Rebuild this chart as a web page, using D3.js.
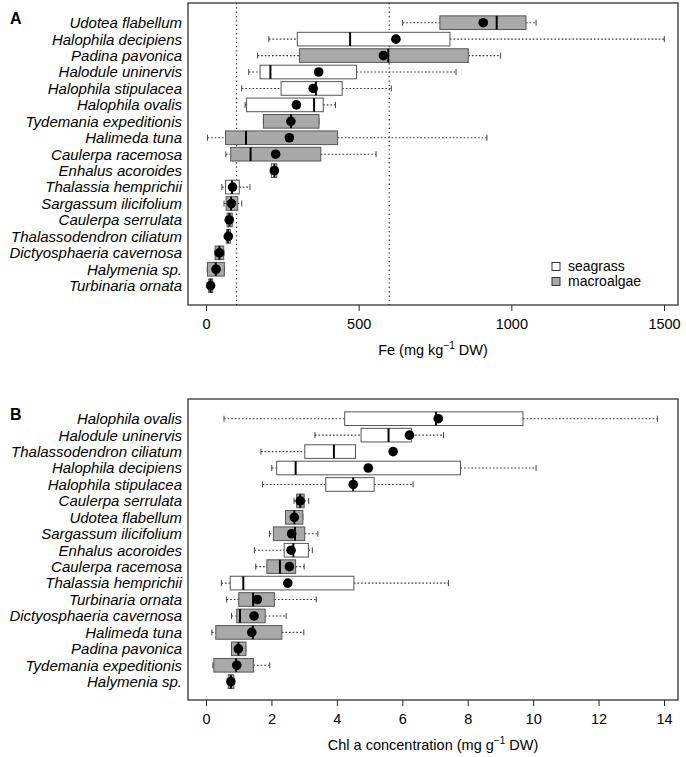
<!DOCTYPE html>
<html><head><meta charset="utf-8">
<script src="https://cdn.jsdelivr.net/npm/d3@7/dist/d3.min.js"></script>
<style>body{margin:0;background:#fff}svg{display:block}text{font-family:"Liberation Sans",Arial,sans-serif}</style>
</head><body><svg id="c" width="686" height="757"></svg>
<script>
// ---- Panel A: Fe (mg kg-1 DW)
const namesA = ["Udotea flabellum","Halophila decipiens","Padina pavonica","Halodule uninervis","Halophila stipulacea","Halophila ovalis","Tydemania expeditionis","Halimeda tuna","Caulerpa racemosa","Enhalus acoroides","Thalassia hemprichii","Sargassum ilicifolium","Caulerpa serrulata","Thalassodendron ciliatum","Dictyosphaeria cavernosa","Halymenia sp.","Turbinaria ornata"];
const loA   = [644,206,169,140,117,128,188,5,65,211,52,59,67,66,29,4,8];
const q1A   = [766,299,306,177,246,133,188,64,81,214,64,66,69,67,30,5,9];
const medA  = [952,472,597,211,360,354,278,131,146,224,85,82,77,73,44,32,15];
const q3A   = [1048,799,859,493,446,384,370,431,376,232,109,104,86,80,58,60,22];
const hiA   = [1081,1501,965,819,607,424,370,920,557,234,144,117,88,82,59,60,24];
const meanA = [908,622,581,369,351,296,278,273,228,224,87,83,76,73,44,33,15];
const refLinesA = [100,600];
const ticksA = [0,500,1000,1500];

// ---- Panel B: Chl a (mg g-1 DW)
const namesB = ["Halophila ovalis","Halodule uninervis","Thalassodendron ciliatum","Halophila decipiens","Halophila stipulacea","Caulerpa serrulata","Udotea flabellum","Sargassum ilicifolium","Enhalus acoroides","Caulerpa racemosa","Thalassia hemprichii","Turbinaria ornata","Dictyosphaeria cavernosa","Halimeda tuna","Padina pavonica","Tydemania expeditionis","Halymenia sp."];
const loB   = [0.55,3.33,1.68,2.01,1.73,2.69,2.43,1.94,1.48,1.52,0.47,0.63,0.78,0.18,0.78,0.21,0.67];
const q1B   = [4.24,4.74,3.02,2.16,3.66,2.77,2.43,2.06,2.39,1.86,0.74,1.00,0.94,0.30,0.78,0.24,0.68];
const medB  = [7.03,5.58,3.91,2.74,4.50,2.88,2.70,2.72,2.67,2.26,1.14,1.44,1.04,1.43,0.99,0.92,0.76];
const q3B   = [9.69,6.28,4.57,7.78,5.14,3.00,2.96,3.02,3.13,2.74,4.52,2.09,1.81,2.32,1.22,1.45,0.85];
const hiB   = [13.8,7.26,4.57,10.09,6.33,3.14,2.96,3.42,3.25,3.00,7.41,3.37,2.45,2.99,1.22,1.95,0.86];
const meanB = [7.10,6.22,5.72,4.96,4.50,2.88,2.70,2.62,2.60,2.55,2.50,1.57,1.47,1.40,0.99,0.94,0.76];
const ticksB = [0,2,4,6,8,10,12,14];

const seagrass = ["Halophila decipiens","Halodule uninervis","Halophila stipulacea","Halophila ovalis","Enhalus acoroides","Thalassia hemprichii","Thalassodendron ciliatum"];
const legendLabels = ["seagrass","macroalgae"];
const GRAY = "#a9a9a9";

const svg = d3.select("#c");

function panel(opt){
  const {names, lo, q1, med, q3, hi, mean, domain, ticks, top, bottom, y0, y1, letter, title, sup, refs, legend} = opt;
  const L = 188, R = 678;
  const x = d3.scaleLinear().domain(domain).range([206, 664]);
  const y = d3.scalePoint().domain(names).range([y0, y1]);
  const bh = y.step() * 0.83;
  const g = svg.append("g");

  (refs||[]).forEach(v => {
    g.append("line").attr("x1", x(v)).attr("x2", x(v)).attr("y1", top).attr("y2", bottom)
      .attr("stroke", "#333").attr("stroke-width", 1.2).attr("stroke-dasharray", "1.3,3");
  });

  names.forEach((n, i) => {
    const cy = y(n);
    const fill = seagrass.includes(n) ? "#fff" : GRAY;
    [[lo[i], q1[i]], [q3[i], hi[i]]].forEach(([a, b]) => {
      if (b > a) g.append("line").attr("x1", x(a)).attr("x2", x(b)).attr("y1", cy).attr("y2", cy)
        .attr("stroke", "#333").attr("stroke-width", 1.1).attr("stroke-dasharray", "1.6,2");
    });
    [lo[i], hi[i]].forEach(v => {
      g.append("line").attr("x1", x(v)).attr("x2", x(v)).attr("y1", cy - 3).attr("y2", cy + 3)
        .attr("stroke", "#444").attr("stroke-width", 1);
    });
    g.append("rect").attr("x", x(q1[i])).attr("width", Math.max(0.5, x(q3[i]) - x(q1[i])))
      .attr("y", cy - bh / 2).attr("height", bh)
      .attr("fill", fill).attr("stroke", "#555").attr("stroke-width", 1);
    g.append("line").attr("x1", x(med[i])).attr("x2", x(med[i])).attr("y1", cy - bh / 2).attr("y2", cy + bh / 2)
      .attr("stroke", "#000").attr("stroke-width", 2);
    g.append("circle").attr("cx", x(mean[i])).attr("cy", cy).attr("r", 4.8).attr("fill", "#000");
    g.append("text").attr("x", 182).attr("y", cy).attr("dy", "0.36em").attr("text-anchor", "end")
      .attr("font-style", "italic").attr("font-size", 15).attr("fill", "#000").text(n);
  });

  g.append("rect").attr("x", L).attr("y", top).attr("width", R - L).attr("height", bottom - top)
    .attr("fill", "none").attr("stroke", "#222").attr("stroke-width", 1.2);

  const ax = g.append("g").attr("transform", `translate(0,${bottom})`)
    .call(d3.axisBottom(x).tickValues(ticks).tickSize(6).tickPadding(8).tickFormat(d3.format("d")));
  ax.select(".domain").remove();
  ax.selectAll(".tick line").attr("stroke", "#222");
  ax.selectAll(".tick text").attr("font-size", 14.5).attr("fill", "#000")
    .attr("font-family", "'Liberation Sans',Arial,sans-serif");

  const t = g.append("text").attr("x", 433).attr("y", bottom + 50).attr("text-anchor", "middle")
    .attr("font-size", 14.5).attr("fill", "#000");
  t.append("tspan").text(title[0]);
  t.append("tspan").attr("font-size", 10).attr("dy", -6).text(sup);
  t.append("tspan").attr("dy", 6).text(title[1]);

  g.append("text").attr("x", 10).attr("y", top + 21).attr("font-weight", "bold").attr("font-size", 16)
    .attr("fill", "#000").text(letter);

  if (legend) {
    legendLabels.forEach((lab, k) => {
      const ly = 266.5 + k * 15;
      g.append("rect").attr("x", 552).attr("y", ly - 4).attr("width", 8).attr("height", 8)
        .attr("fill", k === 0 ? "#fff" : GRAY).attr("stroke", "#333").attr("stroke-width", 1);
      g.append("text").attr("x", 568).attr("y", ly).attr("dy", "0.34em").attr("font-size", 14)
        .attr("fill", "#000").text(lab);
    });
  }
}

panel({names: namesA, lo: loA, q1: q1A, med: medA, q3: q3A, hi: hiA, mean: meanA,
  domain: [0, 1500], ticks: ticksA, top: 3, bottom: 305, y0: 22.7, y1: 285.7,
  letter: "A", title: ["Fe (mg kg", " DW)"], sup: "\u22121", refs: refLinesA, legend: true});
panel({names: namesB, lo: loB, q1: q1B, med: medB, q3: q3B, hi: hiB, mean: meanB,
  domain: [0, 14], ticks: ticksB, top: 399, bottom: 700, y0: 418.7, y1: 681.7,
  letter: "B", title: ["Chl a concentration (mg g", " DW)"], sup: "\u22121", refs: [], legend: false});
</script></body></html>
